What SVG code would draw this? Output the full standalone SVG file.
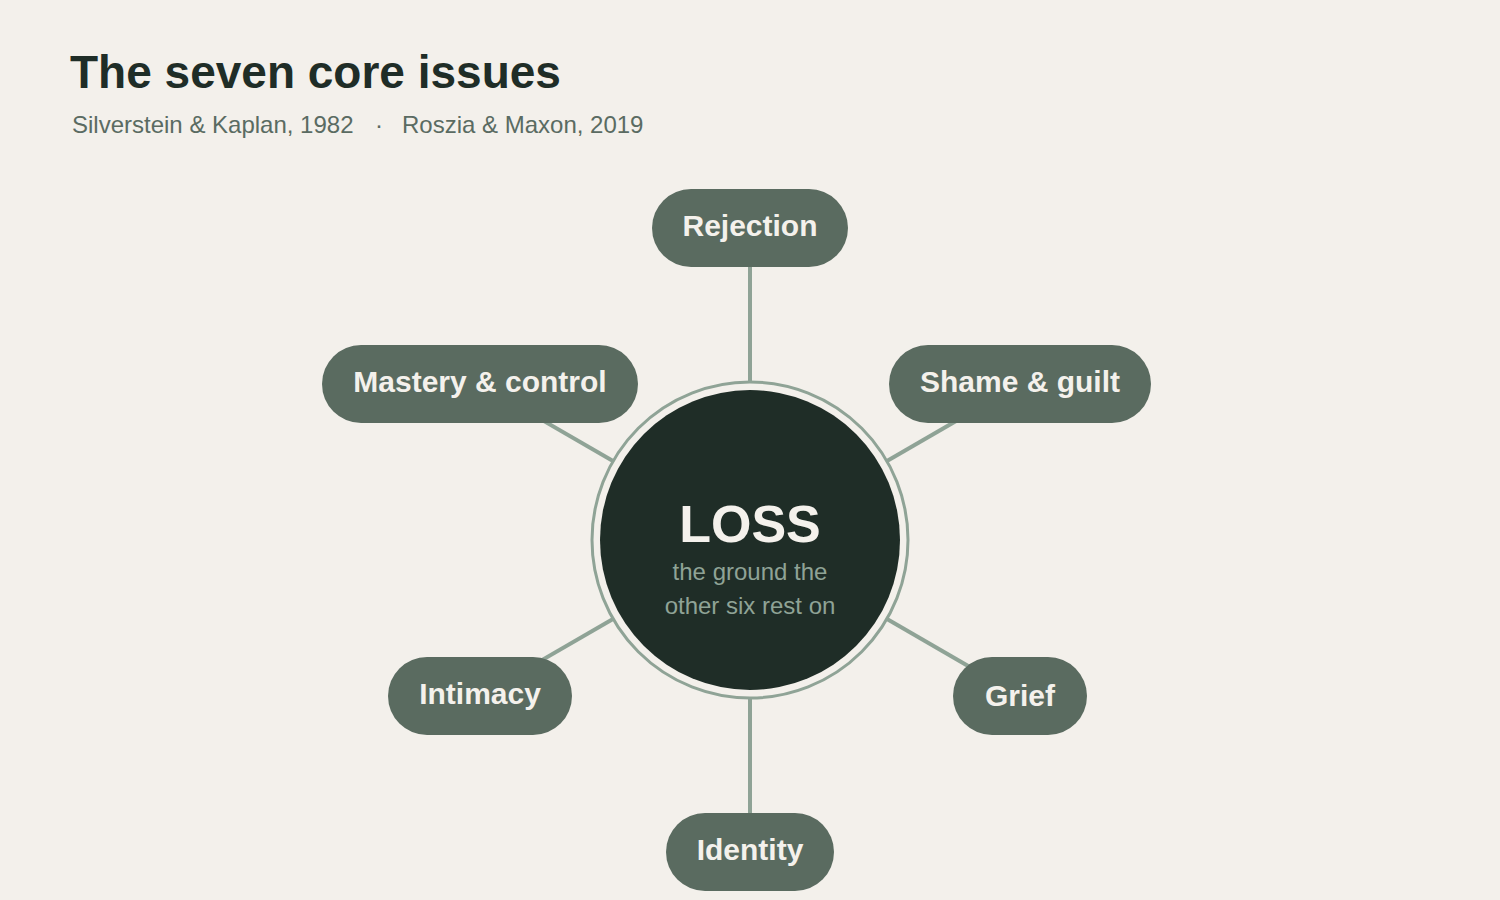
<svg xmlns="http://www.w3.org/2000/svg" width="1500" height="900" viewBox="0 0 1500 900">
<style>
.bg{fill:#f3f0eb}
.title{font-family:"Liberation Sans",Arial,sans-serif;font-weight:bold;font-size:46px;fill:#1f2d27}
.sub{font-family:"Liberation Sans",Arial,sans-serif;font-size:24px;fill:#5a6b62}
.pill{fill:#5a6b60}
.lbl{font-family:"Liberation Sans",Arial,sans-serif;font-weight:bold;font-size:30px;fill:#f4f1ec;text-anchor:middle}
.spoke{stroke:#8fa396;stroke-width:4;fill:none}
.loss{font-family:"Liberation Sans",Arial,sans-serif;font-weight:bold;font-size:52px;fill:#f4f1ec;text-anchor:middle}
.lossub{font-family:"Liberation Sans",Arial,sans-serif;font-size:24px;fill:#8fa396;text-anchor:middle}
</style>
<rect class="bg" x="0" y="0" width="1500" height="900"/>
<text class="title" x="70" y="88">The seven core issues</text>
<text class="sub" y="133"><tspan x="72">Silverstein &amp; Kaplan, 1982</tspan><tspan x="375">·</tspan><tspan x="402">Roszia &amp; Maxon, 2019</tspan></text>
<g id="connectors">
<line class="spoke" x1="750" y1="382" x2="750" y2="228"/>
<line class="spoke" x1="887" y1="461" x2="1020" y2="384"/>
<line class="spoke" x1="887" y1="619" x2="1020" y2="696"/>
<line class="spoke" x1="750" y1="698" x2="750" y2="852"/>
<line class="spoke" x1="613" y1="619" x2="480" y2="696"/>
<line class="spoke" x1="613" y1="461" x2="480" y2="384"/>
</g>
<g id="loss">
<circle cx="750" cy="540" r="158" fill="none" stroke="#8fa396" stroke-width="3"/>
<circle cx="750" cy="540" r="150" fill="#1f2d27"/>
<text class="loss" x="750" y="542">LOSS</text>
<text class="lossub" x="750" y="580">the ground the</text>
<text class="lossub" x="750" y="614">other six rest on</text>
</g>
<g id="rejection">
<rect class="pill" x="652" y="189" width="196" height="78" rx="39"/>
<text class="lbl" x="750" y="236">Rejection</text>
</g>
<g id="shame">
<rect class="pill" x="889" y="345" width="262" height="78" rx="39"/>
<text class="lbl" x="1020" y="392">Shame &amp; guilt</text>
</g>
<g id="grief">
<rect class="pill" x="953" y="657" width="134" height="78" rx="39"/>
<text class="lbl" x="1020" y="706">Grief</text>
</g>
<g id="identity">
<rect class="pill" x="666" y="813" width="168" height="78" rx="39"/>
<text class="lbl" x="750" y="860">Identity</text>
</g>
<g id="intimacy">
<rect class="pill" x="388" y="657" width="184" height="78" rx="39"/>
<text class="lbl" x="480" y="704">Intimacy</text>
</g>
<g id="mastery">
<rect class="pill" x="322" y="345" width="316" height="78" rx="39"/>
<text class="lbl" x="480" y="392">Mastery &amp; control</text>
</g>
</svg>
